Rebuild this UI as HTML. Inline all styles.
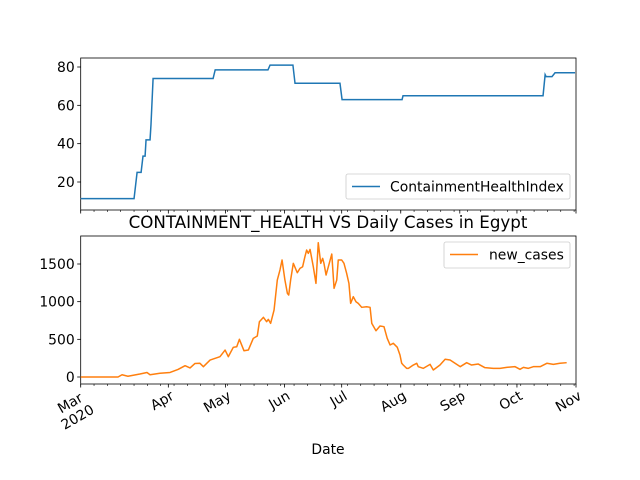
<!DOCTYPE html>
<html><head><meta charset="utf-8"><style>
body{margin:0;background:#fff}
svg{font-family:"DejaVu Sans","Liberation Sans",sans-serif;display:block}
</style></head><body>
<svg id="chart" width="640" height="480" viewBox="0 0 640 480" xmlns="http://www.w3.org/2000/svg">
<rect width="640" height="480" fill="#fff"/>
<g id="g"></g>
</svg>
<script>
// data (x = days since Feb 15 2020)
const monthLabels=["Mar","Apr","May","Jun","Jul","Aug","Sep","Oct","Nov"];
const monthDays=[0,46,76,107,137,168,199,229,260];
const chiDays=[0,28,29.6,31.7,32.7,33.8,34.3,36.4,36.9,38,69.5,70.6,98.3,99.4,111.4,112.5,136.1,137.2,168.7,169.2,242.7,243.8,244.3,247.4,249,259.5];
const chiVals=[11.3,11.3,25,25,33.5,33.5,42,42,50,74,74,78.5,78.5,81,81,71.5,71.5,63,63,65,65,76,75,75,77,77];
const caseDays=[0,19.6,21.7,24.8,31.1,34.8,36.4,41.6,46.9,51.1,54.8,57.4,60,62.6,64.4,67.9,73.1,75.8,77.5,80.1,81.9,83.3,85.7,88,90.6,92.7,93.8,95.9,97.6,98.5,99.7,101.5,103.2,104.6,105.7,107.2,108.5,109.2,110.2,111.6,113.7,115.1,116.5,117.7,118.6,119.5,120.4,122.1,123.5,124.7,126,127,127.7,128.8,130,131.8,133,134.4,135.2,137,138.2,139.6,140.8,141.7,143.1,144.5,145.7,147.5,150.1,151.9,152.8,155,157.1,159.2,160.9,162.4,164.1,166.2,167.6,168.5,169.3,171.1,172,174.6,176.4,177.2,179.8,183.4,185.1,188.6,191.3,193.9,196.5,199.2,202.6,205.2,208.7,212.2,216.6,220.1,223.6,228,230.6,232.4,235,237.6,241.2,244.7,248.1,251.6,255.1,259.5];
const caseVals=[0,0,30,10,40,60,30,50,60,100,150,120,180,182,137,225,270,358,270,394,402,500,349,358,513,544,734,792,734,765,712,889,1287,1420,1553,1287,1110,1088,1287,1509,1384,1442,1464,1597,1685,1641,1694,1464,1243,1782,1509,1575,1509,1354,1464,1632,1177,1287,1553,1553,1509,1376,1243,978,1066,999,978,925,933,925,712,614,677,668,513,425,447,394,292,182,159,115,115,159,182,137,115,168,93,159,235,225,182,137,190,159,172,124,115,115,128,137,102,128,115,137,137,182,168,182,190];
const topTicks=[20,40,60,80];
const botTicks=[0,500,1000,1500];

const NS="http://www.w3.org/2000/svg";const G=document.getElementById('g');
function el(t,a,txt,parent){const e=document.createElementNS(NS,t);for(const k in a)e.setAttribute(k,a[k]);if(txt!==undefined)e.textContent=txt;(parent||G).appendChild(e);return e;}
const FS=13.9;
const X0=80.7,X1=576;const xs=d=>X0+d*(X1-X0)/260;
const yTop=v=>67+(80-v)*115/60;
const yBot=v=>377-v*113/1500;
const axes=[{top:58,bot:210,y:yTop,ticks:topTicks,name:'top'},{top:236,bot:384,y:yBot,ticks:botTicks,name:'bottom'}];
axes.forEach(a=>{
 let r=el('rect',{x:X0,y:a.top,width:X1-X0,height:a.bot-a.top,fill:'none',stroke:'#000','stroke-width':0.8});
 
 
 a.ticks.forEach(t=>{const y=a.y(t);
  let l=el('line',{x1:X0-3.5,x2:X0,y1:y,y2:y,stroke:'#000','stroke-width':0.8});
  
  
  let tx=el('text',{x:X0-6,y:y+5,'font-size':FS,'text-anchor':'end'},String(t));
  
  
 });
 for(let d=0;d<=260;d+=7){let l=el('line',{x1:xs(d),x2:xs(d),y1:a.bot,y2:a.bot+2,stroke:'#000','stroke-width':0.6});
  
  }
 monthDays.forEach(d=>{let l=el('line',{x1:xs(d),x2:xs(d),y1:a.bot,y2:a.bot+3.5,stroke:'#000','stroke-width':0.8});
  
  });
});
monthLabels.forEach((m,i)=>{const x=xs(monthDays[i]);
 const g=el('g',{transform:`translate(${x+1},${389}) rotate(-30)`});
 
 
 if(i===0){
  let t=el('text',{x:-17,y:11,'font-size':FS,'text-anchor':'middle'},m,g);
  
  
  let y=el('text',{x:0,y:27,'font-size':FS,'text-anchor':'end'},'2020',g);
  
  
 } else {
  let t=el('text',{x:0,y:11,'font-size':FS,'text-anchor':'end'},m,g);
  
  
 }
});
let xt=el('text',{x:328,y:454,'font-size':FS,'text-anchor':'middle'},'Date');


let ti=el('text',{x:328,y:228,'font-size':16.7,'text-anchor':'middle'},'CONTAINMENT_HEALTH VS Daily Cases in Egypt');


let p1=el('polyline',{points:chiDays.map((d,i)=>xs(d)+','+yTop(chiVals[i])).join(' '),fill:'none',stroke:'#1f77b4','stroke-width':1.5});


let p2=el('polyline',{points:caseDays.map((d,i)=>xs(d)+','+yBot(caseVals[i])).join(' '),fill:'none',stroke:'#ff7f0e','stroke-width':1.5,'stroke-linejoin':'round'});


// legends
let lg1=el('rect',{x:346,y:174,width:224,height:25,rx:2,fill:'#fff','fill-opacity':0.8,stroke:'#ccc','stroke-width':0.8});


let ll1=el('line',{x1:352,x2:380,y1:186.5,y2:186.5,stroke:'#1f77b4','stroke-width':1.5});


let lt1=el('text',{x:390,y:191.5,'font-size':FS},'ContainmentHealthIndex');


let lg2=el('rect',{x:444,y:242,width:126,height:26,rx:2,fill:'#fff','fill-opacity':0.8,stroke:'#ccc','stroke-width':0.8});


let ll2=el('line',{x1:450,x2:478,y1:254.5,y2:254.5,stroke:'#ff7f0e','stroke-width':1.5});


let lt2=el('text',{x:489,y:259.5,'font-size':FS},'new_cases');


</script>
</body></html>
